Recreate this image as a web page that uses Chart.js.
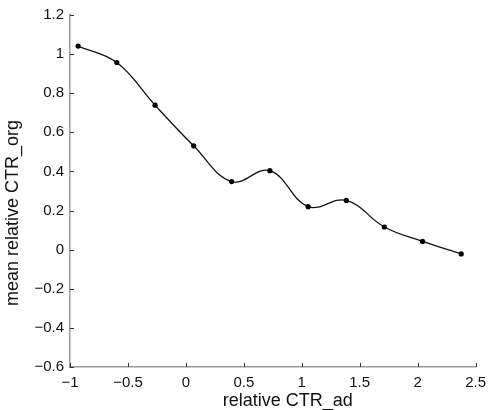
<!DOCTYPE html>
<html>
<head>
<meta charset="utf-8">
<script src="https://cdn.jsdelivr.net/npm/chart.js@4"></script>
<style>
  html, body { margin: 0; padding: 0; background: #fff; }
  #wrap { width: 493px; height: 410px; }
</style>
</head>
<body>
<div id="wrap"><canvas id="myChart" width="493" height="410"></canvas></div>
<script>
// data
const ctrAd = [-0.93, -0.596, -0.266, 0.067, 0.395, 0.725, 1.055, 1.385, 1.713, 2.043, 2.376]
const ctrOrg = [1.041, 0.957, 0.739, 0.531, 0.348, 0.404, 0.220, 0.252, 0.116, 0.042, -0.022]

const xTicks = [-1, -0.5, 0, 0.5, 1, 1.5, 2, 2.5]
const yTicks = [-0.6, -0.4, -0.2, 0, 0.2, 0.4, 0.6, 0.8, 1, 1.2]

const tituloX = 'relative CTR_ad'
const tituloY = 'mean relative CTR_org'

const pontos = ctrAd.map((x, i) => ({ x: x, y: ctrOrg[i] }))

function rotulo(v) {
    let s = String(Math.round(v * 10) / 10)
    return s.replace('-', '\u2212')
}

// ticks pointing into the plot + axis titles placed like matlab does
const eixosMatlab = {
    id: 'eixosMatlab',
    afterDraw(chart) {
        const c = chart.ctx
        const area = chart.chartArea
        c.save()
        c.strokeStyle = '#333'
        c.lineWidth = 1
        chart.scales.x.ticks.forEach((t, i) => {
            const px = Math.round(chart.scales.x.getPixelForTick(i)) + 0.5
            c.beginPath()
            c.moveTo(px, area.bottom)
            c.lineTo(px, area.bottom - 4)
            c.stroke()
        })
        chart.scales.y.ticks.forEach((t, i) => {
            const py = Math.round(chart.scales.y.getPixelForTick(i)) + 0.5
            c.beginPath()
            c.moveTo(area.left, py)
            c.lineTo(area.left + 4, py)
            c.stroke()
        })

        c.fillStyle = '#111'
        c.font = '18px "Liberation Sans"'
        c.textAlign = 'center'
        c.textBaseline = 'middle'
        c.fillText(tituloX, area.left + (area.right - area.left) / 2 + 15, 401)

        c.translate(13, area.top + (area.bottom - area.top) / 2 + 22)
        c.rotate(-Math.PI / 2)
        c.fillText(tituloY, 0, 0)
        c.restore()
    }
}

const ctx = document.getElementById('myChart')

const grafico = new Chart(ctx, {
    type: 'scatter',
    data: {
        datasets: [{
            data: pontos,
            showLine: true,
            borderColor: '#111',
            borderWidth: 1.3,
            tension: 0.4,
            pointRadius: 2.6,
            pointBackgroundColor: '#000',
            pointBorderWidth: 0
        }]
    },
    options: {
        responsive: false,
        animation: false,
        layout: { padding: { top: 12, right: 13, left: 0, bottom: 0 } },
        plugins: {
            legend: { display: false },
            tooltip: { enabled: false }
        },
        scales: {
            x: {
                type: 'linear',
                min: -1,
                max: 2.5,
                afterBuildTicks: s => { s.ticks = xTicks.map(v => ({ value: v })) },
                afterFit: s => { s.height = 43 },
                grid: { drawOnChartArea: false, drawTicks: false },
                border: { color: '#999', width: 1.5 },
                ticks: {
                    color: '#111',
                    padding: 7,
                    font: { family: 'Liberation Sans', size: 15 },
                    callback: v => rotulo(v)
                }
            },
            y: {
                min: -0.6,
                max: 1.2,
                afterBuildTicks: s => { s.ticks = yTicks.map(v => ({ value: v })) },
                afterFit: s => { s.width = 70 },
                grid: { drawOnChartArea: false, drawTicks: false },
                border: { color: '#999', width: 1.5 },
                ticks: {
                    color: '#111',
                    padding: 6,
                    font: { family: 'Liberation Sans', size: 15 },
                    callback: v => rotulo(v)
                }
            }
        }
    },
    plugins: [eixosMatlab]
})
</script>
</body>
</html>
